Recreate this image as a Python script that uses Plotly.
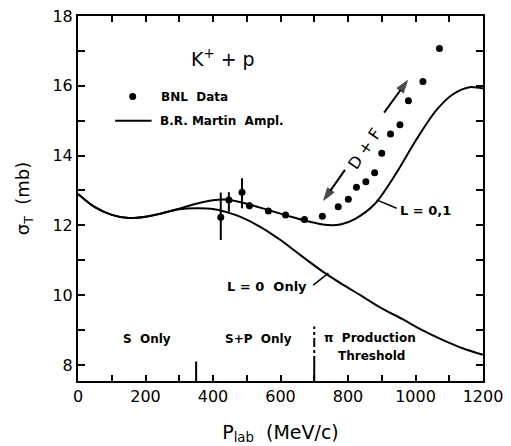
import plotly.graph_objects as go

# ---- data ----
bnl_p = [423, 447, 486, 508, 564, 615, 671, 724, 771, 801, 825, 853, 879, 900, 926, 954, 979, 1022, 1071]
bnl_sigma = [12.23, 12.73, 12.95, 12.56, 12.41, 12.30, 12.17, 12.26, 12.53, 12.75, 13.09, 13.25, 13.51, 14.07, 14.62, 14.88, 15.57, 16.12, 17.07]
bnl_err_plus = [0.71, 0.22, 0.40, 0.10, 0, 0, 0, 0, 0, 0, 0, 0, 0, 0, 0, 0, 0, 0, 0]
bnl_err_minus = [0.65, 0.34, 0.46, 0.10, 0, 0, 0, 0, 0, 0, 0, 0, 0, 0, 0, 0, 0, 0, 0]

l01_p = [0, 50, 100, 150, 200, 250, 300, 350, 400, 440, 500, 560, 620, 680, 740, 780, 820, 880, 940, 1000, 1060, 1110, 1160, 1200]
l01_sigma = [12.90, 12.52, 12.30, 12.21, 12.25, 12.35, 12.48, 12.62, 12.72, 12.74, 12.62, 12.45, 12.28, 12.12, 12.01, 12.03, 12.18, 12.62, 13.45, 14.42, 15.28, 15.75, 15.96, 15.92]

l0_p = [0, 50, 100, 150, 200, 250, 300, 350, 400, 440, 480, 540, 600, 660, 720, 780, 840, 900, 960, 1020, 1080, 1140, 1200]
l0_sigma = [12.90, 12.52, 12.30, 12.21, 12.25, 12.35, 12.46, 12.49, 12.47, 12.38, 12.25, 11.96, 11.58, 11.14, 10.71, 10.33, 9.98, 9.62, 9.32, 9.00, 8.72, 8.48, 8.29]

x_ticks = [0, 200, 400, 600, 800, 1000, 1200]
y_ticks = [8, 10, 12, 14, 16, 18]

FONT = "DejaVu Sans"
fig = go.Figure()

line_style = dict(color="black", width=2, shape="spline", smoothing=0.8)
fig.add_trace(go.Scatter(x=l01_p, y=l01_sigma, mode="lines", line=line_style, showlegend=False))
fig.add_trace(go.Scatter(x=l0_p, y=l0_sigma, mode="lines", line=line_style, showlegend=False))
fig.add_trace(go.Scatter(x=bnl_p, y=bnl_sigma, mode="markers",
                         marker=dict(color="black", size=7),
                         error_y=dict(type="data", symmetric=False, array=bnl_err_plus, arrayminus=bnl_err_minus,
                                      color="black", thickness=2, width=0),
                         showlegend=False))

# legend (drawn in-plot)
fig.add_trace(go.Scatter(x=[162], y=[15.69], mode="markers", marker=dict(color="black", size=7), showlegend=False))
fig.add_trace(go.Scatter(x=[110, 218], y=[15.0, 15.0], mode="lines", line=dict(color="black", width=2), showlegend=False))

# region markers
fig.add_trace(go.Scatter(x=[350, 350], y=[7.54, 8.1], mode="lines", line=dict(color="black", width=2), showlegend=False))
fig.add_trace(go.Scatter(x=[700, 700], y=[7.54, 8.0], mode="lines", line=dict(color="black", width=2), showlegend=False))
fig.add_trace(go.Scatter(x=[700, 700], y=[8.0, 9.1], mode="lines", line=dict(color="black", width=2, dash="dashdot"), showlegend=False))

# D+F arrows (line + arrow head marker)
for xs, ys in [([791, 728], [13.59, 12.72]), ([907, 976], [15.23, 16.15])]:
    fig.add_trace(go.Scatter(x=xs, y=ys, mode="lines+markers",
                             line=dict(color="black", width=2),
                             marker=dict(symbol="arrow", size=[0, 13], angleref="previous", color="black",
                                         line=dict(color="black", width=1)),
                             showlegend=False))

# pointer lines
fig.add_trace(go.Scatter(x=[885, 944], y=[12.73, 12.49], mode="lines", line=dict(color="black", width=1.5), showlegend=False))
fig.add_trace(go.Scatter(x=[697, 742], y=[10.29, 10.63], mode="lines", line=dict(color="black", width=1.5), showlegend=False))

tf = dict(family=FONT, size=12, color="black", weight="bold")
ann = [
    dict(x=430, y=16.8, text="K<sup>+</sup> + p", font=dict(family=FONT, size=19, color="black")),
    dict(x=240, y=15.69, text="BNL  Data", xanchor="left", font=tf),
    dict(x=237, y=15.0, text="B.R. Martin  Ampl.", xanchor="left", font=tf),
    dict(x=850, y=14.2, text="D + F", textangle=-56, font=dict(family=FONT, size=16, color="black")),
    dict(x=948, y=12.44, text="L = 0,1", xanchor="left", font=dict(family=FONT, size=13, color="black", weight="bold")),
    dict(x=559, y=10.26, text="L = 0  Only", font=dict(family=FONT, size=13, color="black", weight="bold")),
    dict(x=203, y=8.74, text="S  Only", font=tf),
    dict(x=534, y=8.74, text="S+P  Only", font=tf),
    dict(x=866, y=8.77, text="\u03c0  Production", font=tf),
    dict(x=870, y=8.26, text="Threshold", font=tf),
]
for a in ann:
    a.setdefault("xanchor", "center")
    fig.add_annotation(xref="x", yref="y", showarrow=False, **a)

axis_common = dict(showgrid=False, zeroline=False, showline=True, linecolor="black", linewidth=2,
                   mirror="ticks", ticks="inside", tickcolor="black", tickwidth=2, automargin=False,
                   tickfont=dict(family=FONT, size=16, color="black"))
fig.update_xaxes(range=[0, 1200], tickvals=x_ticks, ticklen=6,
                 minor=dict(dtick=100, ticks="inside", ticklen=6, tickcolor="black", tickwidth=2),
                 title=dict(text="P<sub>lab</sub>  (MeV/c)", font=dict(family=FONT, size=19, color="black"), standoff=20),
                 **axis_common)
fig.update_yaxes(range=[7.54, 18], tickvals=y_ticks, ticklen=7,
                 minor=dict(dtick=1, tick0=7, ticks="inside", ticklen=7, tickcolor="black", tickwidth=2),
                 title=dict(text="\u03c3<sub>T</sub>  (mb)", font=dict(family=FONT, size=18, color="black"), standoff=18),
                 **axis_common)

fig.update_layout(width=511, height=446, margin=dict(l=78, r=28, t=16, b=65),
                  plot_bgcolor="white", paper_bgcolor="white", showlegend=False)

fig.write_html("out.html")
